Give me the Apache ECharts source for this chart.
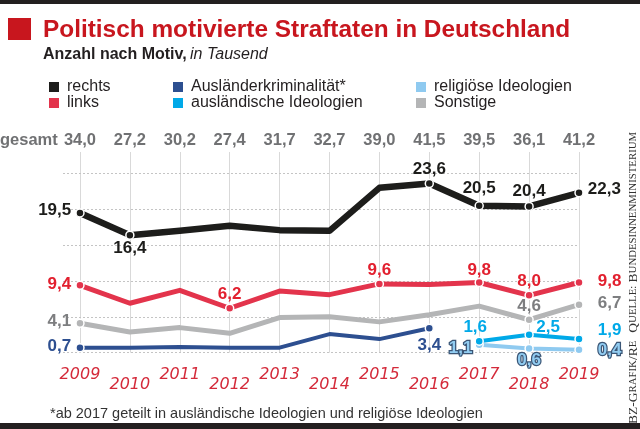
<!DOCTYPE html>
<html><head><meta charset="utf-8">
<script src="https://cdn.jsdelivr.net/npm/echarts@6/dist/echarts.min.js"></script>
<style>html,body{margin:0;padding:0;background:#fff}#c{width:640px;height:429px}</style>
</head><body><div id="c"></div>
<script>
// ---- data (in Tausend) ----
const years    = [2009, 2010, 2011, 2012, 2013, 2014, 2015, 2016, 2017, 2018, 2019];
const gesamt   = [34.0, 27.2, 30.2, 27.4, 31.7, 32.7, 39.0, 41.5, 39.5, 36.1, 41.2];
const rechts   = [19.5, 16.4, 17.0, 17.7, 17.1, 17.0, 23.0, 23.6, 20.5, 20.4, 22.3];
const links    = [9.4, 6.9, 8.7, 6.2, 8.6, 8.1, 9.6, 9.5, 9.8, 8.0, 9.8];
const sonstige = [4.1, 2.9, 3.5, 2.7, 4.9, 5.0, 4.3, 5.3, 6.5, 4.6, 6.7];
const auslKrim = [0.7, 0.7, 0.8, 0.7, 0.7, 2.6, 1.9, 3.4, null, null, null];
const auslIdeo = [null, null, null, null, null, null, null, null, 1.6, 2.5, 1.9];
const relIdeo  = [null, null, null, null, null, null, null, null, 1.1, 0.6, 0.4];
const yTicks   = [0, 5, 10, 15, 20, 25];

// label placement per series: index -> [position, distance, offset]
const labelSpec = {
  rechts:   {0:['left',4,[0,-3]], 1:['bottom',0], 7:['top',1], 8:['top',4], 9:['top',2], 10:['right',4,[0,-4]]},
  links:    {0:['left',4,[0,-1]], 3:['top',1], 6:['top',0], 8:['top',-1], 9:['top',1], 10:['right',14,[0,-1]]},
  sonstige: {0:['left',4,[0,-2]], 9:['top',0], 10:['right',14,[0,-1]]},
  auslKrim: {0:['left',4,[0,-1]], 7:['bottom',4]},
  auslIdeo: {8:['top',1,[-4,0]], 9:['top',-6,[19,0]], 10:['right',14,[0,-9]]},
  relIdeo:  {8:['left',2,[0,3]], 9:['bottom',-1], 10:['right',14]}
};

const FONT = "'Liberation Sans', Arial, sans-serif";
const fmt = v => v.toFixed(1).replace('.', ',');

function makeSeries(name, values, spec, color, width, labelColor, extraLabel) {
  const data = [];
  values.forEach((v, i) => {
    if (v == null) return;
    const s = spec[i];
    const item = { value: [years[i], v] };
    if (s) {
      item.symbol = 'circle';
      item.symbolSize = 8;
      item.label = { show: true, position: s[0], distance: s[1], offset: s[2] || [0, 0] };
    } else {
      item.symbol = 'none';
      item.label = { show: false };
    }
    data.push(item);
  });
  return {
    name, type: 'line', data, silent: true, z: 5,
    lineStyle: { color, width, cap: 'round', join: 'round' },
    itemStyle: { color, borderColor: '#fff', borderWidth: 1.5 },
    emphasis: { disabled: true },
    label: Object.assign({
      color: labelColor, fontFamily: FONT, fontWeight: 'bold', fontSize: 17,
      formatter: p => fmt(p.value[1])
    }, extraLabel || {})
  };
}

const chart = echarts.init(document.getElementById('c'), null, { renderer: 'canvas' });

const option = {
  animation: false,
  backgroundColor: '#fff',
  grid: { left: 63, right: 61, top: 152, bottom: 76.3 },
  xAxis: { type: 'value', min: 2008.66, max: 2019, show: false },
  yAxis: { type: 'value', min: 0, max: 28, show: false },
  legend: [
    { data: ['rechts', 'links'], left: 42, top: 74 },
    { data: ['Ausländerkriminalität*', 'ausländische Ideologien'], left: 166, top: 74 },
    { data: ['religiöse Ideologien', 'Sonstige'], left: 409, top: 74 }
  ].map(l => Object.assign(l, {
    orient: 'vertical', icon: 'rect', itemWidth: 12, itemHeight: 12, itemGap: 0,
    selectedMode: false,
    textStyle: { fontFamily: FONT, fontSize: 16, color: '#231f20', padding: [0, 0, 0, 2] }
  })),
  series: [
    {
      name: 'vlines', type: 'line', data: [], silent: true, z: 1,
      markLine: {
        silent: true, symbol: ['none', 'none'], animation: false,
        lineStyle: { color: '#d9d9d9', width: 1, type: 'solid' },
        label: {
          position: 'start', color: '#d42a3a', fontFamily: "'DejaVu Sans', sans-serif",
          fontStyle: 'italic', fontSize: 16
        },
        data: years.map((y, i) => ({ xAxis: y, label: { formatter: String(y), distance: i % 2 ? 24 : 14 } }))
      }
    },
    {
      name: 'gesamtRow', type: 'line', data: [], silent: true, z: 1,
      markLine: {
        silent: true, symbol: ['none', 'none'], animation: false,
        lineStyle: { width: 0, color: 'rgba(255,255,255,0)' },
        label: { show: true, position: 'end', distance: 3, color: '#707173', fontFamily: FONT,
                 fontWeight: 'bold', fontSize: 16.5 },
        data: years.map((y, i) => ({ xAxis: y, label: { formatter: fmt(gesamt[i]) } }))
      }
    },
    {
      name: 'hlines', type: 'line', data: [], silent: true, z: 1,
      markLine: {
        silent: true, symbol: ['none', 'none'], animation: false,
        lineStyle: { color: '#c4c4c4', width: 1, type: [2, 2] },
        label: { show: false },
        data: yTicks.map(v => ({ yAxis: v }))
      }
    },
    makeSeries('Sonstige', sonstige, labelSpec.sonstige, '#b4b5b6', 5, '#7d7e80'),
    makeSeries('Ausländerkriminalität*', auslKrim, labelSpec.auslKrim, '#2d4f90', 4, '#2d4f90'),
    makeSeries('religiöse Ideologien', relIdeo, labelSpec.relIdeo, '#8fcaf0', 4, '#92cdf2',
      { textBorderColor: '#3b5676', textBorderWidth: 2.5 }),
    makeSeries('ausländische Ideologien', auslIdeo, labelSpec.auslIdeo, '#00a9e8', 4, '#00a9e8'),
    makeSeries('links', links, labelSpec.links, '#e3344c', 5, '#e2202f'),
    makeSeries('rechts', rechts, labelSpec.rechts, '#1d1d1b', 6.5, '#1d1d1b')
  ],
  graphic: [
    { type: 'rect', shape: { x: 0, y: 0, width: 640, height: 4 }, style: { fill: '#231f20' }, silent: true },
    { type: 'rect', shape: { x: 0, y: 423, width: 640, height: 6 }, style: { fill: '#231f20' }, silent: true },
    { type: 'rect', shape: { x: 8, y: 18, width: 23, height: 22 }, style: { fill: '#c8161e' }, silent: true },
    { type: 'text', x: 43, y: 30, silent: true,
      style: { text: 'Politisch motivierte Straftaten in Deutschland', fill: '#c8161e',
               font: "bold 24.4px 'Liberation Sans', Arial, sans-serif", textVerticalAlign: 'middle' } },
    { type: 'text', x: 43, y: 55, silent: true,
      style: { text: '{b|Anzahl nach Motiv,} {i|in Tausend}', textVerticalAlign: 'middle',
               rich: { b: { fontFamily: FONT, fontWeight: 'bold', fontSize: 16, fill: '#231f20', color: '#231f20' },
                       i: { fontFamily: FONT, fontStyle: 'italic', fontSize: 16, fill: '#231f20', color: '#231f20' } } } },
    { type: 'text', x: 0, y: 140, silent: true,
      style: { text: 'gesamt', fill: '#707173', font: "bold 16.5px 'Liberation Sans', Arial, sans-serif", textVerticalAlign: 'middle' } },
    { type: 'text', x: 50, y: 414, silent: true,
      style: { text: '*ab 2017 geteilt in ausländische Ideologien und religiöse Ideologien', fill: '#333',
               font: "14.5px 'Liberation Sans', Arial, sans-serif", textVerticalAlign: 'middle' } },
    { type: 'text', x: 633, y: 424, rotation: Math.PI / 2, silent: true,
      style: {
        text: '{a|BZ-G}{s|RAFIK}{a|/R}{s|E}{s|   }{a|Q}{s|UELLE:} {a|B}{s|UNDESINNENMINISTERIUM}',
        textAlign: 'left', textVerticalAlign: 'middle',
        rich: {
          a: { fontFamily: "'Liberation Serif', serif", fontSize: 13.5, color: '#333', fill: '#333' },
          s: { fontFamily: "'Liberation Serif', serif", fontSize: 10.8, color: '#333', fill: '#333' }
        }
      } }
  ]
};
chart.setOption(option);
</script>
</body></html>
